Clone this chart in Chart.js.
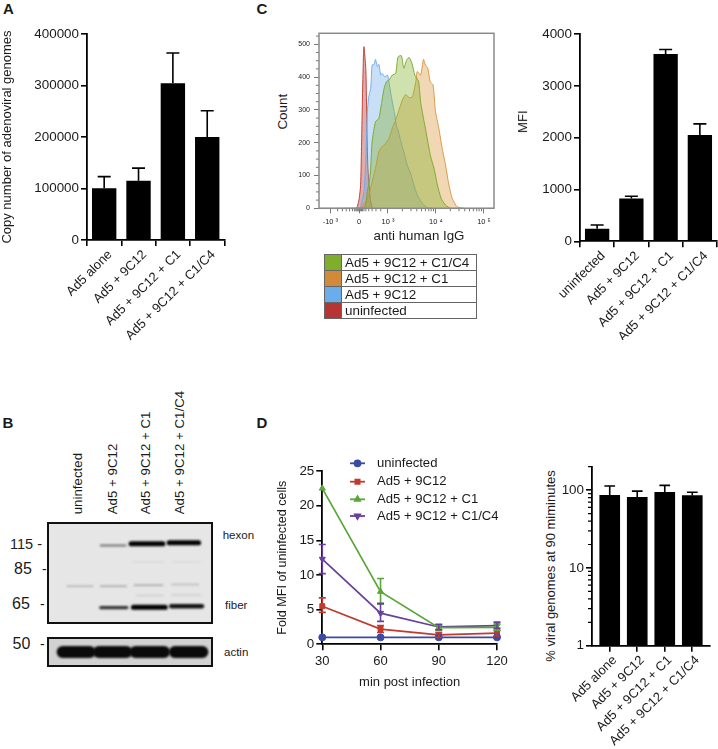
<!DOCTYPE html>
<html>
<head>
<meta charset="utf-8">
<title>Ad5 figure</title>
<script src="https://cdn.jsdelivr.net/npm/chart.js@4/dist/chart.umd.min.js"></script>
<style>
  body { margin: 0; background: #fff; width: 718px; height: 749px; overflow: hidden; position: relative; font-family: "Liberation Sans", Arial, sans-serif; color: #1a1a1a; }
  canvas { position: absolute; }
  .lbl { position: absolute; left: 0; top: 0; white-space: nowrap; transform-origin: 0 0; line-height: 1; }
  #histLegend { position: absolute; left: 324px; top: 254px; width: 153px; border-collapse: collapse; font-size: 13.4px; }
  #histLegend td { height: 15px; padding: 0 0 0 3px; border: 1px solid #666; line-height: 14px; }
  #histLegend td.sw { width: 16px; padding: 0; }
</style>
</head>
<body>
<script>
// panel A
const genomeLabels = ['Ad5 alone', 'Ad5 + 9C12', 'Ad5 + 9C12 + C1', 'Ad5 + 9C12 + C1/C4'];
const genomeValues = [100500, 115000, 304500, 200000];
const genomeErrTop = [123000, 139500, 363000, 251000];

// panel C histogram, x is the display position of the biexponential axis (3 = 10^3, 4 = 10^4 ...)
const histNames = ['Ad5 + 9C12 + C1/C4', 'Ad5 + 9C12 + C1', 'Ad5 + 9C12', 'uninfected'];
const greenX = [1.57, 2.50, 2.57, 2.63, 2.67, 2.74, 2.81, 2.86, 2.92, 2.97, 3.02, 3.09, 3.16, 3.21, 3.28, 3.33, 3.39, 3.44, 3.50, 3.56, 3.60, 3.64, 3.68, 3.74, 3.78, 3.83, 3.89, 3.96, 4.03, 4.11, 4.20, 4.31, 5.21];
const greenCount = [0, 2, 51, 102, 203, 264, 274, 315, 366, 386, 391, 406, 411, 462, 465, 427, 452, 460, 442, 406, 396, 386, 325, 274, 244, 203, 157, 122, 71, 30, 10, 0, 0];
const orangeX = [2.43, 2.53, 2.60, 2.67, 2.74, 2.81, 2.88, 2.95, 3.02, 3.09, 3.16, 3.23, 3.30, 3.37, 3.44, 3.51, 3.58, 3.61, 3.68, 3.74, 3.78, 3.83, 3.88, 3.94, 3.99, 4.06, 4.13, 4.20, 4.27, 4.34, 4.44, 4.58];
const orangeCount = [2, 20, 41, 81, 122, 173, 188, 198, 213, 244, 269, 300, 330, 347, 337, 340, 386, 417, 406, 454, 437, 427, 386, 376, 295, 244, 183, 132, 71, 30, 5, 0];
const blueX = [2.43, 2.50, 2.54, 2.57, 2.60, 2.64, 2.67, 2.71, 2.74, 2.78, 2.81, 2.85, 2.88, 2.93, 2.99, 3.03, 3.07, 3.13, 3.18, 3.21, 3.26, 3.33, 3.40, 3.47, 3.54, 3.61, 3.72, 3.82, 3.92];
const blueCount = [5, 50, 150, 295, 340, 366, 437, 439, 454, 432, 439, 406, 411, 401, 406, 376, 340, 295, 249, 239, 208, 173, 132, 107, 71, 41, 15, 2, 0];
const redX = [2.33, 2.36, 2.40, 2.43, 2.45, 2.47, 2.49, 2.50, 2.51, 2.54, 2.56, 2.58, 2.63, 2.67];
const redCount = [0, 5, 30, 70, 200, 350, 470, 493, 480, 420, 255, 130, 30, 0];
const histMajorX = [1.8, 2.4, 3, 4, 5];
const histMajorLabels = ['-10 ³', '0', '10 ³', '10 ⁴', '10 ⁵'];
const histMajorY = [0, 100, 200, 300, 400, 500];
const histMinorX = [1.95, 2.05, 2.13, 2.2, 2.26, 2.3, 2.33, 2.35, 2.37, 2.39, 2.41, 2.43, 2.45, 2.47, 2.5, 2.54, 2.6, 2.67, 2.75, 2.85, 3.3, 3.48, 3.6, 3.7, 3.78, 3.85, 3.9, 3.95, 4.3, 4.48, 4.6, 4.7, 4.78, 4.85, 4.9, 4.95];
const histMinorY = [25, 50, 75, 125, 150, 175, 225, 250, 275, 325, 350, 375, 425, 450, 475, 525];

// panel C bars
const mfiLabels = ['uninfected', 'Ad5 + 9C12', 'Ad5 + 9C12 + C1', 'Ad5 + 9C12 + C1/C4'];
const mfiValues = [240, 825, 3615, 2050];
const mfiErrTop = [315, 870, 3700, 2265];

// panel B blot, lane position and migration both in percent of the membrane
const laneNames = ['uninfected', 'Ad5 + 9C12', 'Ad5 + 9C12 + C1', 'Ad5 + 9C12 + C1/C4'];
const bandStart = [32.4, 50.7, 73.6, 12.3, 32.4, 52.7, 75.3, 54.1, 75.3, 52.1, 76.3, 32.4, 52.1, 74.8];
const bandEnd = [47.3, 69.8, 91.3, 27.6, 47.7, 69.6, 91.3, 70.2, 92.4, 70.2, 92.4, 48.1, 71.2, 93.4];
const bandMigration = [23, 21.3, 20.3, 63, 63, 62, 61.3, 72.1, 71.5, 39.3, 39.3, 83.9, 83.6, 82.6];
const bandStrength = [0.5, 1, 1, 0.22, 0.28, 0.28, 0.18, 0.1, 0.1, 0.04, 0.04, 0.78, 1, 0.92];
const actinStart = [9.4, 31.2, 53.3, 77];
const actinEnd = [25.8, 47.9, 70.6, 93.6];

// panel D
const timePoints = [30, 60, 90, 120];
const foldNames = ['uninfected', 'Ad5 + 9C12', 'Ad5 + 9C12 + C1', 'Ad5 + 9C12 + C1/C4'];
const foldUninfected = [1, 1, 1, 1];
const fold9C12 = [5.5, 2.2, 1.35, 1.6];
const fold9C12High = [6.7, 2.7, 1.7, 2];
const fold9C12Low = [4.6, 1.7, 1, 1.2];
const foldC1 = [22.5, 7.6, 2.4, 2.45];
const foldC1High = [null, 9.5, 2.8, 2.9];
const foldC1Low = [null, 5.8, 2, 2];
const foldC1C4 = [12.3, 4.5, 2.5, 2.7];
const foldC1C4High = [14.4, 5.9, 2.9, 3.2];
const foldC1C4Low = [10.2, 3.3, 2.1, 2.3];

// panel D right
const viralLabels = ['Ad5 alone', 'Ad5 + 9C12', 'Ad5 + 9C12 + C1', 'Ad5 + 9C12 + C1/C4'];
const viralValues = [86, 81, 94, 85];
const viralErrTop = [113, 97, 115, 94];
const viralMinor = [2, 3, 4, 5, 6, 7, 8, 9, 20, 30, 40, 50, 60, 70, 80, 90, 200];

const BLACK = '#000';
const FONT = 'Liberation Sans';
Chart.defaults.font.family = FONT;
Chart.defaults.color = '#1a1a1a';
Chart.defaults.animation = false;
Chart.defaults.responsive = false;
Chart.defaults.plugins.legend.display = false;
Chart.defaults.plugins.tooltip.enabled = false;

// whiskers, the library has no error bar type
const errorBars = {
  id: 'errorBars',
  afterDatasetsDraw(chart) {
    const ctx = chart.ctx;
    const y = chart.scales.y;
    chart.data.datasets.forEach((ds, i) => {
      if (!ds.errHigh) return;
      const meta = chart.getDatasetMeta(i);
      ctx.save();
      ctx.strokeStyle = ds.errColor || BLACK;
      ctx.lineWidth = 1.6;
      meta.data.forEach((pt, j) => {
        if (ds.errHigh[j] == null) return;
        const hi = y.getPixelForValue(ds.errHigh[j]);
        const lo = ds.errLow ? y.getPixelForValue(ds.errLow[j]) : pt.y;
        const c = ds.errCap / 2;
        ctx.beginPath();
        ctx.moveTo(pt.x, lo); ctx.lineTo(pt.x, hi);
        ctx.moveTo(pt.x - c, hi); ctx.lineTo(pt.x + c, hi);
        if (ds.errLow) { ctx.moveTo(pt.x - c, lo); ctx.lineTo(pt.x + c, lo); }
        ctx.stroke();
      });
      ctx.restore();
    });
  }
};

// tickLength can't vary per tick so the short ones get drawn here
const minorTicks = {
  id: 'minorTicks',
  afterDraw(chart, args, opts) {
    if (!opts.length) return;
    const ctx = chart.ctx, area = chart.chartArea;
    ctx.save();
    ctx.strokeStyle = opts.color;
    ctx.lineWidth = opts.width;
    ctx.beginPath();
    (opts.y || []).forEach(v => {
      const p = chart.scales.y.getPixelForValue(v);
      ctx.moveTo(area.left, p); ctx.lineTo(area.left - opts.length, p);
    });
    (opts.x || []).forEach(v => {
      const p = chart.scales.x.getPixelForValue(v);
      ctx.moveTo(p, area.bottom); ctx.lineTo(p, area.bottom + opts.length);
    });
    ctx.stroke();
    ctx.restore();
  }
};

// box round the plot, used by the histogram and the blots
const frame = {
  id: 'frame',
  beforeDraw(chart, args, opts) {
    if (!opts.fill) return;
    const a = chart.chartArea;
    chart.ctx.fillStyle = opts.fill;
    chart.ctx.fillRect(a.left, a.top, a.width, a.height);
  },
  afterDraw(chart, args, opts) {
    if (!opts.color) return;
    const a = chart.chartArea, ctx = chart.ctx;
    ctx.save();
    ctx.strokeStyle = opts.color;
    ctx.lineWidth = opts.width;
    const w = opts.inset;
    ctx.strokeRect(a.left + w, a.top + w, a.width - 2 * w, a.height - 2 * w);
    ctx.restore();
  }
};

// soft edges on the film bands
const softBands = {
  id: 'softBands',
  beforeDatasetDraw(chart, args, opts) { if (opts.blur) chart.ctx.filter = 'blur(' + opts.blur + 'px)'; },
  afterDatasetDraw(chart, args, opts) { if (opts.blur) chart.ctx.filter = 'none'; }
};

// line + marker legend of panel D
const markerLegend = {
  id: 'markerLegend',
  afterDraw(chart, args, opts) {
    if (!opts.rows) return;
    const ctx = chart.ctx;
    const left = chart.canvas.offsetLeft, top = chart.canvas.offsetTop;
    ctx.save();
    ctx.font = '13.1px "' + FONT + '"';
    ctx.textBaseline = 'middle';
    chart.data.datasets.forEach((ds, i) => {
      const y = opts.rows[i] - top;
      const x0 = opts.lineX - left;
      ctx.strokeStyle = ctx.fillStyle = ds.borderColor;
      ctx.lineWidth = 1.8;
      ctx.beginPath();
      ctx.moveTo(x0, y); ctx.lineTo(x0 + opts.lineLen, y);
      ctx.stroke();
      Chart.helpers.drawPoint(ctx, { pointStyle: ds.pointStyle, rotation: ds.pointRotation || 0, radius: 3, borderWidth: 1 }, x0 + opts.lineLen / 2, y);
      ctx.fillStyle = '#1a1a1a';
      ctx.fillText(foldNames[i], opts.textX - left, y);
    });
    ctx.restore();
  }
};

Chart.register(errorBars, minorTicks, frame, softBands, markerLegend);

// text that doesn't sit where an axis title would, anchor 0 start, 50 centre, 100 end
function label(text, x, y, size, rot, anchor, bold) {
  const el = document.createElement('div');
  el.className = 'lbl';
  el.textContent = text;
  el.style.fontSize = size + 'px';
  if (bold) el.style.fontWeight = 'bold';
  el.style.transform = 'translate(' + x + 'px,' + y + 'px) rotate(' + (rot || 0) + 'deg) translate(-' + (anchor == null ? 50 : anchor) + '%,-50%)';
  document.body.appendChild(el);
}

// area is the canvas on the page, plot is where the axes should end up
function place(area, plot, cfg) {
  const c = document.createElement('canvas');
  c.width = area.w; c.height = area.h;
  c.style.left = area.x + 'px'; c.style.top = area.y + 'px';
  document.body.appendChild(c);
  cfg.options.layout = { padding: { left: 0, top: plot.t - area.y, right: area.x + area.w - plot.r, bottom: 0 } };
  const xs = cfg.options.scales.x, ys = cfg.options.scales.y;
  if (xs.display !== false) xs.afterFit = s => { s.height = area.y + area.h - plot.b; };
  if (ys.display !== false) ys.afterFit = s => { s.width = plot.l - area.x; };
  return new Chart(c, cfg);
}

function tickFont(size) { return { size: size, family: FONT }; }

function axis(extra) {
  return Object.assign({
    border: { display: true, color: BLACK, width: 1.8 },
    grid: { display: true, drawOnChartArea: false, drawTicks: true, tickLength: 6, color: BLACK, lineWidth: 1.6 }
  }, extra);
}

function barPanel(area, plot, labels, values, errTop, maxY, stepY, title) {
  return place(area, plot, {
    type: 'bar',
    data: { labels: labels, datasets: [{ data: values, backgroundColor: BLACK, barPercentage: 0.71, categoryPercentage: 1, errHigh: errTop, errCap: 13 }] },
    options: {
      scales: {
        x: axis({ offset: true, ticks: { font: tickFont(13), minRotation: 45, maxRotation: 45, padding: 1, autoSkip: false, labelOffset: 6 } }),
        y: axis({
          min: 0, max: maxY,
          ticks: { stepSize: stepY, font: tickFont(13.4), padding: 2, callback: v => String(v) },
          title: title ? { display: true, text: title, font: tickFont(13), padding: 0 } : { display: false }
        })
      }
    }
  });
}

// A
barPanel({ x: 0, y: 20, w: 245, h: 330 }, { l: 87, t: 34, r: 224.4, b: 240 }, genomeLabels, genomeValues, genomeErrTop, 400000, 100000, 'Copy number of adenoviral genomes');

// C histogram
function histSet(xs, ys, line, fill) {
  return { data: xs.map((x, i) => ({ x: x, y: ys[i] })), showLine: true, fill: 'origin', borderColor: line, backgroundColor: fill, borderWidth: 1, pointRadius: 0, tension: 0.2 };
}
const histSwatch = ['#7fae2a', '#d18a3a', '#69aeea', '#b63433'];
place({ x: 290, y: 25, w: 215, h: 205 }, { l: 319, t: 33.3, r: 494, b: 208.3 }, {
  type: 'scatter',
  data: {
    datasets: [
      histSet(greenX, greenCount, 'rgba(120,165,40,.9)', 'rgba(130,175,40,.38)'),
      histSet(orangeX, orangeCount, 'rgba(215,145,60,.9)', 'rgba(222,150,60,.38)'),
      histSet(blueX, blueCount, 'rgba(105,170,235,.9)', 'rgba(110,170,235,.38)'),
      histSet(redX, redCount, 'rgba(185,55,50,.9)', 'rgba(190,70,60,.45)')
    ]
  },
  options: {
    scales: {
      x: {
        type: 'linear', min: 1.5625, max: 5.21,
        afterBuildTicks: s => { s.ticks = histMajorX.map(v => ({ value: v })); },
        border: { display: false },
        grid: { display: true, drawOnChartArea: false, tickLength: 5, color: '#777', lineWidth: 1 },
        ticks: { font: tickFont(7.5), padding: 4, maxRotation: 0, autoSkip: false, callback: v => histMajorLabels[histMajorX.indexOf(v)] }
      },
      y: {
        min: 0, max: 533.5,
        afterBuildTicks: s => { s.ticks = histMajorY.map(v => ({ value: v })); },
        border: { display: false },
        grid: { display: true, drawOnChartArea: false, tickLength: 5, color: '#777', lineWidth: 1 },
        ticks: { font: tickFont(7), padding: 4 }
      }
    },
    plugins: {
      frame: { color: '#8a8a8a', width: 1.5, inset: 0 },
      minorTicks: { x: histMinorX, y: histMinorY, length: 3, color: '#777', width: 1 }
    }
  }
});
label('Count', 282.7, 111.7, 13.4, -90);
label('anti human IgG', 419, 236, 13.3, 0);
label('C', 262, 8, 15, 0, 50, true);

// C histogram key
const key = document.createElement('table');
key.id = 'histLegend';
histNames.forEach((name, i) => {
  const tr = key.insertRow();
  const sw = tr.insertCell();
  sw.className = 'sw';
  sw.style.background = histSwatch[i];
  tr.insertCell().textContent = name;
});
document.body.appendChild(key);

// C bars
barPanel({ x: 530, y: 20, w: 188, h: 320 }, { l: 580, t: 34, r: 717, b: 241.3 }, mfiLabels, mfiValues, mfiErrTop, 4000, 1000);
label('MFI', 522.7, 121.7, 13.2, -90);

// B blots
function bandSets(starts, ends, rows, widths, shades, cap) {
  return starts.map((s, i) => ({
    data: [{ x: s, y: rows[i] }, { x: ends[i], y: rows[i] }],
    showLine: true, pointRadius: 0,
    borderColor: shades(i), borderWidth: widths(i), borderCapStyle: cap
  }));
}
function blot(box, sets, bg, blur) {
  place(box, { l: box.x, t: box.y, r: box.x + box.w, b: box.y + box.h }, {
    type: 'scatter',
    data: { datasets: sets },
    options: {
      scales: { x: { display: false, min: 0, max: 100 }, y: { display: false, min: 0, max: 100, reverse: true } },
      plugins: { frame: { fill: bg, color: '#111', width: 2, inset: 1 }, softBands: { blur: blur } }
    }
  });
}
blot({ x: 47, y: 521.7, w: 166, h: 102 },
  bandSets(bandStart, bandEnd, bandMigration,
    i => 1.5 + 3.6 * Math.pow(bandStrength[i], 3),
    i => { const g = Math.round(226 * (1 - bandStrength[i])); return 'rgb(' + g + ',' + g + ',' + g + ')'; },
    'round'),
  '#e6e6e6', 0.9);
blot({ x: 47, y: 636.7, w: 166, h: 30 },
  bandSets(actinStart, actinEnd, actinStart.map(() => 50), () => 12, () => '#0a0a0a', 'round'),
  '#d2d2d2', 0.9);

label('uninfected', 78, 514.3, 13.3, -90, 0);
label('Ad5 + 9C12', 113, 514.3, 13.3, -90, 0);
label('Ad5 + 9C12 + C1', 145.7, 514.3, 13.3, -90, 0);
label('Ad5 + 9C12 + C1/C4', 179.3, 514.3, 13.3, -90, 0);
label('115 -', 10, 544, 14.5, 0, 0);
label('85', 14, 569, 16, 0, 0);
label('-', 42, 569, 14, 0, 0);
label('65', 12, 604, 16, 0, 0);
label('-', 40, 604, 14, 0, 0);
label('50', 12.5, 644, 16, 0, 0);
label('-', 40, 644, 14, 0, 0);
label('hexon', 222.7, 535.3, 11.5, 0, 0);
label('fiber', 225, 606, 11.5, 0, 0);
label('actin', 224, 652.7, 11.5, 0, 0);
label('A', 8.5, 8.5, 15, 0, 50, true);
label('B', 8, 422.7, 15, 0, 50, true);
label('D', 262, 422.7, 15, 0, 50, true);

// D lines
function foldSet(values, color, style, high, low, rot) {
  return {
    data: values.map((v, i) => ({ x: timePoints[i], y: v })),
    borderColor: color, backgroundColor: color, borderWidth: 1.7,
    pointStyle: style, pointRotation: rot || 0, pointRadius: 3.5, pointBorderWidth: 1,
    clip: false, errHigh: high, errLow: low, errColor: color, errCap: 7
  };
}
place({ x: 275, y: 455, w: 237, h: 235 }, { l: 322.3, t: 471, r: 497, b: 644.3 }, {
  type: 'line',
  data: {
    datasets: [
      foldSet(foldUninfected, '#3a4aa5', 'circle'),
      foldSet(fold9C12, '#c23a2e', 'rect', fold9C12High, fold9C12Low),
      foldSet(foldC1, '#5aa63a', 'triangle', foldC1High, foldC1Low),
      foldSet(foldC1C4, '#6a3f9c', 'triangle', foldC1C4High, foldC1C4Low, 180)
    ]
  },
  options: {
    scales: {
      x: axis({
        type: 'linear', min: 30, max: 120,
        ticks: { stepSize: 30, font: tickFont(13), padding: 3, maxRotation: 0 },
        title: { display: true, text: 'min post infection', font: tickFont(13), padding: 0 }
      }),
      y: axis({
        min: 0, max: 25,
        ticks: { stepSize: 5, font: tickFont(13.4), padding: 2 },
        title: { display: true, text: 'Fold MFI of uninfected cells', font: tickFont(12.6), padding: 0 }
      })
    },
    plugins: { markerLegend: { rows: [463.3, 481.7, 499.3, 516], lineX: 350, lineLen: 15, textX: 377 } }
  }
});

// D log bars
place({ x: 560, y: 455, w: 158, h: 294 }, { l: 592, t: 466.7, r: 710.3, b: 645.7 }, {
  type: 'bar',
  data: {
    datasets: [{
      data: viralValues.map((v, i) => ({ x: i, y: v })),
      backgroundColor: BLACK, barThickness: 20, errHigh: viralErrTop, errCap: 10.7
    }]
  },
  options: {
    scales: {
      x: axis({
        type: 'linear', offset: false, min: -0.644, max: 3.655,
        grid: { offset: false, display: true, drawOnChartArea: false, tickLength: 6, color: BLACK, lineWidth: 1.6 },
        afterBuildTicks: s => { s.ticks = viralLabels.map((n, i) => ({ value: i })); },
        ticks: { font: tickFont(13), minRotation: 45, maxRotation: 45, padding: 1, autoSkip: false, labelOffset: 5, callback: v => viralLabels[v] }
      }),
      y: axis({
        type: 'logarithmic', min: 1, max: 200,
        afterBuildTicks: s => { s.ticks = [{ value: 1 }, { value: 10 }, { value: 100 }]; },
        ticks: { font: tickFont(13.4), padding: 2, callback: v => String(v) }
      })
    },
    plugins: { minorTicks: { y: viralMinor, length: 4, color: BLACK, width: 1.2 } }
  }
});
label('% viral genomes at 90 miminutes', 550.7, 566, 13, -90);
</script>
</body>
</html>
